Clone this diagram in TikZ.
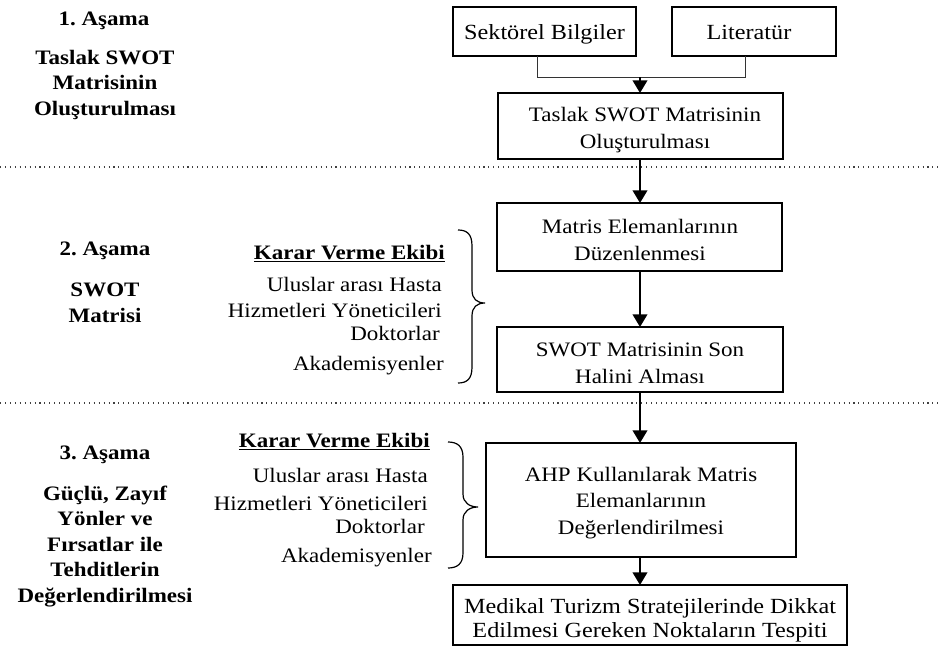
\documentclass[tikz,border=0pt]{standalone}
\usepackage{fontspec}
\setmainfont{Liberation Serif}[FakeStretch=1.12]
\frenchspacing
\usetikzlibrary{arrows.meta}
\tikzset{
  box/.style={draw, line width=1.2pt, inner sep=0pt, outer sep=0pt},
  txt/.style={inner sep=0pt, align=center, font=\fontsize{15.4pt}{20pt}\selectfont},
  bigtxt/.style={txt, font=\fontsize{16.2pt}{18pt}\selectfont},
  arr/.style={line width=1.3pt, -{Triangle[width=11pt,length=9.5pt]}},
  thinline/.style={line width=0.6pt, black!80},
  sep/.style={line width=0.8pt, black!75, dash pattern=on 0.8pt off 2.9pt},
  brc/.style={line width=0.9pt},
  lbl/.style={anchor=base, inner sep=0pt, font=\fontsize{15.4pt}{19.5pt}\selectfont\bfseries},
  team/.style={anchor=base east, inner sep=0pt, font=\fontsize{15.4pt}{19.5pt}\selectfont},
}
\begin{document}
\begin{tikzpicture}[x=0.75pt,y=-0.75pt]
\useasboundingbox (0,0) rectangle (939,646);

% separators
\coordinate (s1a) at (0,167); \coordinate (s1b) at (939,167);
\coordinate (s2a) at (0,403); \coordinate (s2b) at (939,403);
\draw[sep] (s1a) -- (s1b);
\draw[sep] (s2a) -- (s2b);

% boxes
\node[box, minimum width=137.25pt, minimum height=36.75pt] (sek) at (544.5,31.5) {};
\node[box, minimum width=123pt, minimum height=36.75pt] (lit) at (754,31.5) {};
\node[box, minimum width=213.75pt, minimum height=49.5pt] (taslak) at (640.5,126) {};
\node[box, minimum width=213.75pt, minimum height=51pt] (matris) at (639.5,237) {};
\node[box, minimum width=214.5pt, minimum height=48.75pt] (son) at (640,359.5) {};
\node[box, minimum width=232.5pt, minimum height=85.5pt] (ahp) at (641,500) {};
\node[box, minimum width=295.5pt, minimum height=45pt] (med) at (650,615) {};

% box texts
\node[bigtxt, anchor=base] (sek-t) at (544.5,39) {Sektörel Bilgiler};
\node[bigtxt, anchor=base] (lit-t) at (749,39) {Literatür};
\node[txt] (taslak-t) at (645,130) {Taslak SWOT Matrisinin\\Oluşturulması};
\node[txt] (matris-t) at (640,240) {Matris Elemanlarının\\Düzenlenmesi};
\node[txt] (son-t) at (640,363) {SWOT Matrisinin Son\\Halini Alması};
\node[txt] (ahp-t) at (641,503) {AHP Kullanılarak Matris\\Elemanlarının\\Değerlendirilmesi};
\node[bigtxt] (med-t) at (650,620) {Medikal Turizm Stratejilerinde Dikkat\\Edilmesi Gereken Noktaların Tespiti};

% connectors
\coordinate (ja) at (537,77);
\coordinate (jb) at (745,77);
\coordinate (jm) at (640,77);
\draw[thinline] (sek.south -| ja) -- (ja) -- (jb) -- (lit.south -| jb);
\draw[arr] (jm) -- (jm |- taslak.north);
\coordinate (c1) at (640,159);
\draw[arr] (c1) -- (c1 |- matris.north);
\draw[arr] (c1 |- matris.south) -- (c1 |- son.north);
\draw[arr] (c1 |- son.south) -- (c1 |- ahp.north);
\draw[arr] (c1 |- ahp.south) -- (c1 |- med.north);

% left labels
\node[lbl] (l1a) at (104,25) {1. Aşama};
\node[lbl] (l1b) at (105,64) {Taslak SWOT};
\node[lbl] (l1c) at (105,89.5) {Matrisinin};
\node[lbl] (l1d) at (105,115) {Oluşturulması};
\node[lbl] (l2a) at (105,255) {2. Aşama};
\node[lbl] (l2b) at (105,296) {SWOT};
\node[lbl] (l2c) at (105,322) {Matrisi};
\node[lbl] (l3a) at (105,459) {3. Aşama};
\node[lbl] (l3b) at (105,500) {Güçlü, Zayıf};
\node[lbl] (l3c) at (105,525.5) {Yönler ve};
\node[lbl] (l3d) at (105,551) {Fırsatlar ile};
\node[lbl] (l3e) at (105,576.5) {Tehditlerin};
\node[lbl] (l3f) at (105,602) {Değerlendirilmesi};

% decision team, stage 2
\node[team] (t2a) at (445,259) {\bfseries\underline{Karar Verme Ekibi}};
\node[team] (t2b) at (442,291) {Uluslar arası Hasta};
\node[team] (t2c) at (442,317) {Hizmetleri Yöneticileri};
\node[team] (t2d) at (440,340) {Doktorlar};
\node[team] (t2e) at (444,370) {Akademisyenler};
\draw[brc] (458,230) .. controls (467,230) and (472,234) .. (472,246)
  -- (472,290) .. controls (472,299) and (477,303) .. (485,303)
  .. controls (477,303) and (472,307) .. (472,316)
  -- (472,367) .. controls (472,379) and (467,383) .. (458,383);

% decision team, stage 3
\node[team] (t3a) at (430,447) {\bfseries\underline{Karar Verme Ekibi}};
\node[team] (t3b) at (428,482) {Uluslar arası Hasta};
\node[team] (t3c) at (428,510) {Hizmetleri Yöneticileri};
\node[team] (t3d) at (425,533) {Doktorlar};
\node[team] (t3e) at (432,562) {Akademisyenler};
\draw[brc] (448,442) .. controls (457,442) and (463,446) .. (463,457)
  -- (463,494) .. controls (463,503) and (470,507) .. (478,507)
  .. controls (470,507) and (463,511) .. (463,520)
  -- (463,553) .. controls (463,564) and (457,568) .. (448,568);
\end{tikzpicture}
\end{document}
